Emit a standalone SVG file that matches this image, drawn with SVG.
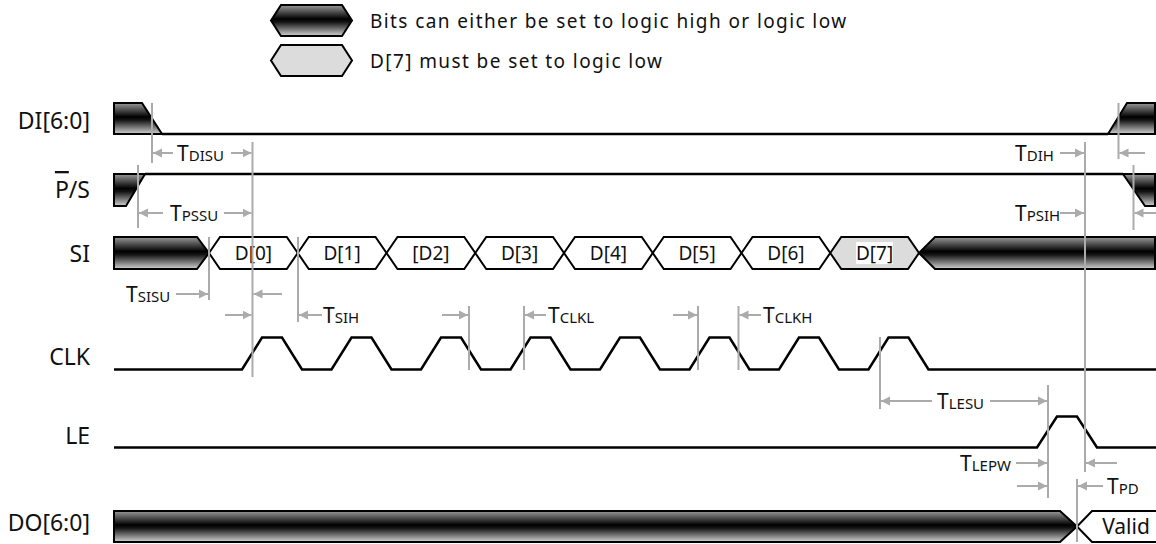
<svg xmlns="http://www.w3.org/2000/svg" width="1156" height="544" viewBox="0 0 1156 544">
<style>
text{font-family:"Noto Sans","Open Sans","DejaVu Sans",sans-serif;fill:#111}
.lbl{font-size:23px;text-anchor:end}
.dat{font-size:19px;text-anchor:middle}
.leg{font-size:19px;letter-spacing:1.4px}
.tm{font-size:21px}
.tm tspan{font-size:15px}
.sig{fill:none;stroke:#000;stroke-width:2.5;stroke-linejoin:miter}
.bus{fill:url(#g);stroke:#000;stroke-width:2}
.hex{fill:#fff;stroke:#000;stroke-width:2}
.hexg{fill:#dcdcdc;stroke:#000;stroke-width:2}
.gl{stroke:#ababab;stroke-width:2;fill:none}
.ar{stroke:#ababab;stroke-width:2;fill:none;marker-end:url(#ah)}
</style>
<defs>
<linearGradient id="g" x1="0" y1="0" x2="0" y2="1">
<stop offset="0" stop-color="#9a9a9a"/>
<stop offset="0.45" stop-color="#000"/>
<stop offset="0.55" stop-color="#141414"/>
<stop offset="1" stop-color="#d2d2d2"/>
</linearGradient>
<marker id="ah" markerUnits="userSpaceOnUse" markerWidth="10" markerHeight="10" refX="9" refY="5" orient="auto">
<path d="M0,0.5 L9,5 L0,9.5 Z" fill="#ababab"/>
</marker>
</defs>

<g id="legend">
<path class="bus" d="M271,20.5 L281,5 H342 L352,20.5 L342,36 H281 Z"/>
<text class="leg" x="370" y="28">Bits can either be set to logic high or logic low</text>
<path class="hexg" d="M271,60.5 L281,45 H342 L352,60.5 L342,76 H281 Z"/>
<text class="leg" x="370" y="68">D[7] must be set to logic low</text>
</g>

<g id="labels">
<text class="lbl" x="90" y="129">DI[6:0]</text>
<text class="lbl" x="90" y="198"><tspan style="text-decoration:overline">P</tspan>/S</text>
<text class="lbl" x="90" y="262">SI</text>
<text class="lbl" x="90" y="365">CLK</text>
<text class="lbl" x="90" y="444">LE</text>
<text class="lbl" x="90" y="531">DO[6:0]</text>
</g>

<g id="DI">
<path class="bus" d="M114,103 H142 L162,134 H114 Z"/>
<path class="sig" d="M162,134 H1108"/>
<path class="bus" d="M1108,134 L1127,103 H1155 V134 Z"/>
</g>

<g id="PS">
<path class="bus" d="M114,174 H145 L126,206 H114 Z"/>
<path class="sig" d="M145,174 H1123"/>
<path class="bus" d="M1123,174 L1145,206 H1155 V174 Z"/>
</g>

<g id="SI">
<path class="bus" d="M114,237 H197 L209,253 L197,269 H114 Z"/>
<path class="hex" d="M209,253 L220,237 H286.75 L297.75,253 L286.75,269 H220 Z"/>
<path class="hex" d="M297.75,253 L308.75,237 H375.5 L386.5,253 L375.5,269 H308.75 Z"/>
<path class="hex" d="M386.5,253 L397.5,237 H464.25 L475.25,253 L464.25,269 H397.5 Z"/>
<path class="hex" d="M475.25,253 L486.25,237 H553 L564,253 L553,269 H486.25 Z"/>
<path class="hex" d="M564,253 L575,237 H641.75 L652.75,253 L641.75,269 H575 Z"/>
<path class="hex" d="M652.75,253 L663.75,237 H730.5 L741.5,253 L730.5,269 H663.75 Z"/>
<path class="hex" d="M741.5,253 L752.5,237 H819.25 L830.25,253 L819.25,269 H752.5 Z"/>
<path class="hexg" d="M830.25,253 L841.25,237 H908 L919,253 L908,269 H841.25 Z"/>
<path class="bus" d="M919,253 L935,237 H1155 V269 H935 Z"/>
<text class="dat" x="253.4" y="260">D[0]</text>
<text class="dat" x="342.1" y="260">D[1]</text>
<text class="dat" x="430.9" y="260">[D2]</text>
<text class="dat" x="519.6" y="260">D[3]</text>
<text class="dat" x="608.4" y="260">D[4]</text>
<text class="dat" x="697.1" y="260">D[5]</text>
<text class="dat" x="785.9" y="260">D[6]</text>
<rect x="856" y="242" width="37" height="22" fill="#fff"/>
<text class="dat" x="874.6" y="260">D[7]</text>
</g>

<g id="CLK">
<path class="sig" d="M114,369.5 H242 L262,337.5 H282 L302,369.5 H331.5 L351.5,337.5 H371.5 L391.5,369.5 H421 L441,337.5 H461 L481,369.5 H510.5 L530.5,337.5 H550.5 L570.5,369.5 H600 L620,337.5 H640 L660,369.5 H689.5 L709.5,337.5 H729.5 L749.5,369.5 H779 L799,337.5 H819 L839,369.5 H868.5 L888.5,337.5 H908.5 L928.5,369.5 H1156"/>
</g>

<g id="LE">
<path class="sig" d="M114,447.5 H1037 L1057,416.5 H1077 L1097,447.5 H1156"/>
</g>

<g id="DO">
<path class="bus" d="M114,511 H1060 L1077,526.5 L1060,542 H114 Z"/>
<path class="hex" d="M1157,511 H1092 L1077,526.5 L1092,542 H1157"/>
<text x="1126" y="534" style="font-size:21px;text-anchor:middle">Valid</text>
</g>

<g id="connectors">
<path class="gl" d="M152,103 V163 M252.5,142 V377 M138,165 V228 M1085,142 V472 M1118.5,103 V159 M1133.5,165 V230 M209,237 V300 M298,237 V322 M469,306 V370 M524,306 V370 M698,306 V370 M738.5,306 V370 M880,337 V409 M1048,385 V498 M1077,479 V542"/>
<path class="ar" d="M173,153 H153"/>
<path class="ar" d="M231,153 H251.5"/>
<path class="ar" d="M163,213 H139"/>
<path class="ar" d="M224,213 H251.5"/>
<path class="ar" d="M1060,153 H1084"/>
<path class="ar" d="M1145,153 H1119.5"/>
<path class="ar" d="M1060,213 H1084"/>
<path class="ar" d="M1156,213 H1134.5"/>
<path class="ar" d="M176,294 H208"/>
<path class="ar" d="M282,294 H253.5"/>
<path class="ar" d="M225,315 H251.5"/>
<path class="ar" d="M322,315 H299"/>
<path class="ar" d="M442,315 H468"/>
<path class="ar" d="M546,315 H525"/>
<path class="ar" d="M673,315 H697"/>
<path class="ar" d="M761,315 H739.5"/>
<path class="ar" d="M932,401 H881"/>
<path class="ar" d="M990,401 H1047"/>
<path class="ar" d="M1016,463 H1047"/>
<path class="ar" d="M1117,463 H1086"/>
<path class="ar" d="M1017,486 H1047"/>
<path class="ar" d="M1103,486 H1078"/>
<text class="tm" x="177" y="160.5">T<tspan>DISU</tspan></text>
<text class="tm" x="170" y="220.5">T<tspan>PSSU</tspan></text>
<text class="tm" x="1015" y="160.5">T<tspan>DIH</tspan></text>
<text class="tm" x="1015" y="220.5">T<tspan>PSIH</tspan></text>
<text class="tm" x="126" y="301.5">T<tspan>SISU</tspan></text>
<text class="tm" x="323" y="322.5">T<tspan>SIH</tspan></text>
<text class="tm" x="548" y="322.5">T<tspan>CLKL</tspan></text>
<text class="tm" x="763" y="322.5">T<tspan>CLKH</tspan></text>
<text class="tm" x="937" y="408.5">T<tspan>LESU</tspan></text>
<text class="tm" x="960" y="470.5">T<tspan>LEPW</tspan></text>
<text class="tm" x="1107" y="493.5">T<tspan>PD</tspan></text>
</g>
</svg>
